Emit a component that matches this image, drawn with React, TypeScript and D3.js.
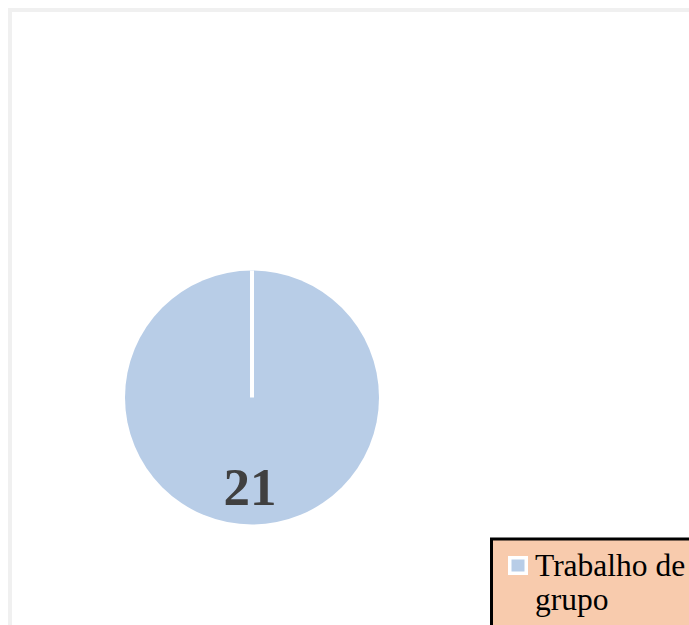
import React from "react";
import * as d3 from "d3";

// dados do gráfico
const categories = ["Trabalho de grupo"];
const values = [21];
const labels = ["21"];
const legendLines = [["Trabalho de", "grupo"]];

const W = 689;
const H = 625;
const cx = 252;
const cy = 397.5;
const radius = 127;

const pieColor = "#B8CDE7";

const App = () => {
  const pie = d3.pie<number>().sort(null).value((d) => d)(values);
  const arc = d3.arc<d3.PieArcDatum<number>>().innerRadius(0).outerRadius(radius);

  return (
    <svg
      width={W}
      height={H}
      style={{ position: "absolute", left: 0, top: 0, background: "#fff" }}
    >
      {/* moldura cinza */}
      <rect x={10} y={10} width={W + 20} height={H + 20} fill="#fff" stroke="#F0F0F0" strokeWidth={4} />

      <g transform={`translate(${cx},${cy})`}>
        {pie.map((d, i) => (
          <g key={categories[i]}>
            <path d={arc(d) || ""} fill={pieColor} />
            <line
              x1={0}
              y1={0}
              x2={radius * Math.sin(d.startAngle)}
              y2={-radius * Math.cos(d.startAngle)}
              stroke="#fff"
              strokeWidth={4}
            />
            <text
              x={-2}
              y={radius * 0.85}
              textAnchor="middle"
              fontFamily="'Liberation Serif', serif"
              fontWeight="bold"
              fontSize={53}
              fill="#404040"
            >
              {labels[i]}
            </text>
          </g>
        ))}
      </g>

      {/* legenda */}
      <g>
        <rect x={491.5} y={539} width={260} height={120} fill="#F8CBAD" stroke="#000" strokeWidth={3} />
        {categories.map((c, i) => (
          <g key={c}>
            <rect x={508} y={556} width={20} height={19} fill="#fff" />
            <rect x={511.5} y={559.5} width={13} height={12} fill={pieColor} />
            <text fontFamily="'Liberation Serif', serif" fontSize={31.5} fill="#000">
              {legendLines[i].map((t, j) => (
                <tspan key={j} x={535} y={576 + j * 34}>
                  {t}
                </tspan>
              ))}
            </text>
          </g>
        ))}
      </g>
    </svg>
  );
};

export default App;
